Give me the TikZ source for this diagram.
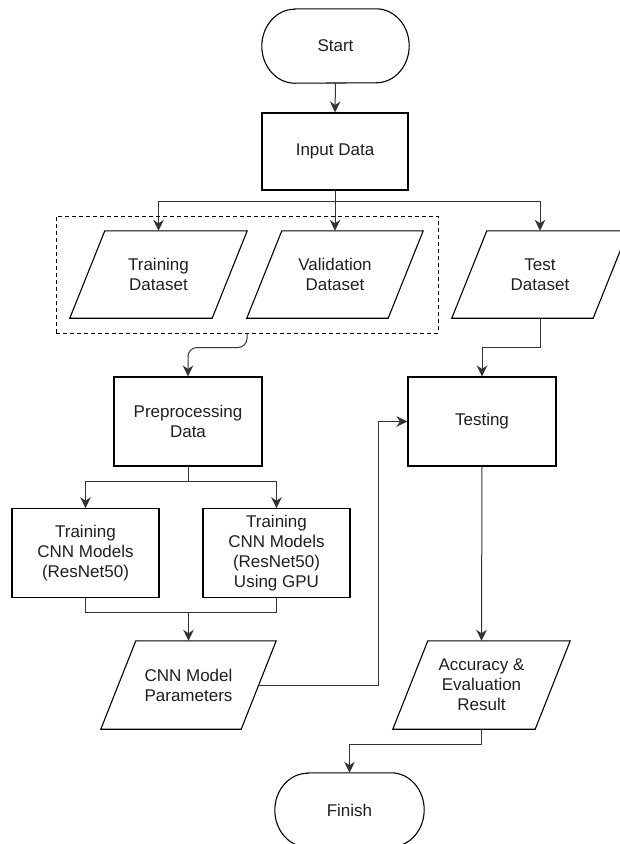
\documentclass[tikz,border=0pt]{standalone}
\usepackage{fontspec}
\setmainfont{Liberation Sans}
\usetikzlibrary{arrows.meta,calc}
\tikzset{
  txt/.style={inner sep=0pt, align=center, text=black!88, font=\fontsize{17pt}{20pt}\selectfont},
  boxnode/.style={txt, draw=black, line width=1.1pt, rectangle},
  ghost/.style={txt, draw=none, rectangle},
  shapeline/.style={draw=black, line width=1.1pt, line join=miter},
  conn/.style={draw=black!80, line width=1pt, -{Stealth[length=11pt,width=10.5pt,inset=3.5pt]}},
  plain/.style={draw=black!80, line width=1pt},
  grpbox/.style={draw=black, line width=1pt, dash pattern=on 4pt off 3pt, inner sep=0pt}
}
\newcommand\termoutline[1]{\draw[shapeline] ([xshift=33pt]#1.north west) -- ([xshift=-33pt]#1.north east) arc[start angle=90,end angle=-90,x radius=33pt,y radius=37pt] -- ([xshift=33pt]#1.south west) arc[start angle=270,end angle=90,x radius=33pt,y radius=37pt] -- cycle;}
\newcommand\paraoutline[1]{\draw[shapeline] ([xshift=35pt]#1.north west) -- (#1.north east) -- ([xshift=-35pt]#1.south east) -- (#1.south west) -- cycle;}
\begin{document}
\begin{tikzpicture}[x=1pt,y=1pt]
\useasboundingbox (0,0) rectangle (619,-844);
% terminators
\node[ghost, minimum width=147pt, minimum height=74pt] (start) at (335.5,-46) {Start};
\termoutline{start}
\node[ghost, minimum width=149pt, minimum height=74pt] (finish) at (349.5,-810) {Finish};
\termoutline{finish}
% boxes
\node[boxnode, minimum width=146pt, minimum height=77pt] (input) at (335,-151.5) {Input Data};
\node[boxnode, minimum width=148pt, minimum height=89pt] (prep) at (188,-421.5) {Preprocessing\\Data};
\node[boxnode, minimum width=148pt, minimum height=89pt] (testing) at (482,-421.5) {Testing};
\node[boxnode, minimum width=147pt, minimum height=88.5pt] (tcnn) at (85.5,-553) {Training\\CNN Models\\(ResNet50)};
\node[boxnode, minimum width=147pt, minimum height=88.5pt] (gpu) at (276.5,-553) {Training\\CNN Models\\(ResNet50)\\Using GPU};
% parallelograms
\node[ghost, minimum width=177pt, minimum height=87pt] (train) at (158.5,-274.5) {Training\\Dataset};
\paraoutline{train}
\node[ghost, minimum width=176pt, minimum height=87pt] (valid) at (335,-274.5) {Validation\\Dataset};
\paraoutline{valid}
\node[ghost, minimum width=176pt, minimum height=87pt] (test) at (540,-274.5) {Test\\Dataset};
\paraoutline{test}
\node[ghost, minimum width=175pt, minimum height=88pt] (params) at (188.5,-685) {CNN Model\\Parameters};
\paraoutline{params}
\node[ghost, minimum width=177pt, minimum height=88pt] (acc) at (481.5,-685) {Accuracy \&\\Evaluation\\Result};
\paraoutline{acc}
% group
\node[grpbox, minimum width=382pt, minimum height=117pt] (grp) at (247,-274.5) {};
% coordinates
\coordinate (split) at (335,-201);
\coordinate (merge) at (188.5,-612.5);
\coordinate (pout) at ($(params.east)+(-17.5,0)$);
\coordinate (via) at (378,-685);
% connectors
\draw[conn] (start.south) -- (input.north);
\draw[plain] (input.south) -- (split);
\draw[conn] (split) -| (train.north);
\draw[conn] (split) -- (valid.north);
\draw[conn] (split) -| (test.north);
\draw[conn, rounded corners=9pt] (grp.south) -- ++(0,-14) -| (prep.north);
\draw[conn] (test.south) -- ++(0,-29) -| (testing.north);
\draw[conn] (prep.south) -- ++(0,-14.5) -| (tcnn.north);
\draw[conn] (prep.south) -- ++(0,-14.5) -| (gpu.north);
\draw[plain] (tcnn.south) |- (merge) -| (gpu.south);
\draw[conn] (merge) -- (params.north);
\draw[conn] (pout) -- (via) |- (testing.west);
\draw[conn] (testing.south) -- (acc.north);
\draw[conn] (acc.south) -- ++(0,-15) -| (finish.north);
\end{tikzpicture}
\end{document}
